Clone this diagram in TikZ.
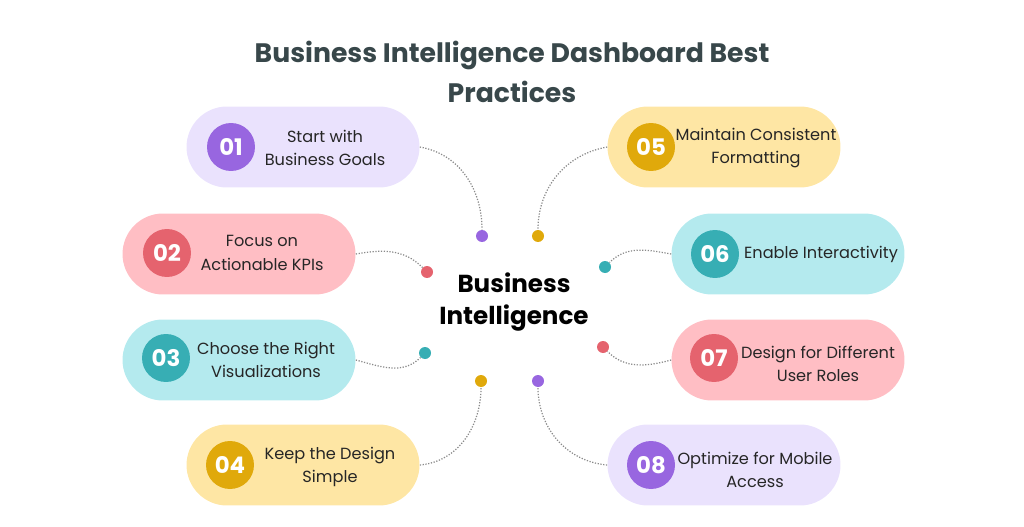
\documentclass[tikz,border=0pt]{standalone}
\usepackage{fontspec}
\setmainfont{Poppins}
\usetikzlibrary{positioning}

% Cores dos cartões
\definecolor{roxoclaro}{HTML}{EAE2FD}
\definecolor{roxo}{HTML}{9866E0}
\definecolor{rosaclaro}{HTML}{FFBEC4}
\definecolor{rosa}{HTML}{E5636E}
\definecolor{cianoclaro}{HTML}{B4EAEE}
\definecolor{ciano}{HTML}{37AEB4}
\definecolor{amareloclaro}{HTML}{FEE6A4}
\definecolor{amarelo}{HTML}{E0A90B}
\definecolor{corTitulo}{HTML}{38474A}
\definecolor{pontilhado}{HTML}{8A8A8A}

\tikzset{
  pilula/.style={fill=#1, rounded corners=0.81cm, minimum width=4.66cm, minimum height=1.62cm},
  numero/.style={circle, fill=#1, minimum size=0.96cm, inner sep=0pt, text=white, font=\fontsize{13}{13}\selectfont\bfseries},
  rotulo/.style={align=center, text=black!85, inner sep=1pt, font=\fontsize{9.2}{13.4}\selectfont},
  ponto/.style={circle, fill=#1, minimum size=0.24cm, inner sep=0pt},
  ligacao/.style={draw=pontilhado, line width=0.7pt, dash pattern=on 0.7pt off 0.9pt},
}

\begin{document}
\begin{tikzpicture}[x=0.02cm, y=-0.02cm]
			\useasboundingbox (0,0) rectangle (1024,527);
			
			% Título
			\node[align=center, text=corTitulo, font=\fontsize{15.2}{22.7}\selectfont\bfseries] (titulo) at (512,72) {Business Intelligence Dashboard Best\\Practices};
			
			% Texto central
			\node[align=center, font=\fontsize{14}{18.2}\selectfont\bfseries] (centro) at (514,302) {Business\\Intelligence};
			
			% Cartões da esquerda
			\node[pilula=roxoclaro] (p1) at (303,147) {};
			\node[numero=roxo] (n1) at (231,147) {01};
			\node[rotulo] (t1) at (325,148) {Start with\\Business Goals};
			
			\node[pilula=rosaclaro] (p2) at (239,254) {};
			\node[numero=rosa] (n2) at (167,253) {02};
			\node[rotulo] (t2) at (262,253) {Focus on\\Actionable KPIs};
			
			\node[pilula=cianoclaro] (p3) at (239,360) {};
			\node[numero=ciano] (n3) at (166,358) {03};
			\node[rotulo] (t3) at (266,360) {Choose the Right\\Visualizations};
			
			\node[pilula=amareloclaro] (p4) at (303,465) {};
			\node[numero=amarelo] (n4) at (230,465) {04};
			\node[rotulo] (t4) at (330,467) {Keep the Design\\Simple};
			
			% Cartões da direita
			\node[pilula=amareloclaro] (p5) at (724,147) {};
			\node[numero=amarelo] (n5) at (651,147) {05};
			\node[rotulo] (t5) at (756,148) {Maintain Consistent\\Formatting};
			
			\node[pilula=cianoclaro] (p6) at (788,254) {};
			\node[numero=ciano] (n6) at (715,254) {06};
			\node[rotulo] (t6) at (821,254) {Enable Interactivity};
			
			\node[pilula=rosaclaro] (p7) at (788,360) {};
			\node[numero=rosa] (n7) at (714,358) {07};
			\node[rotulo] (t7) at (818,364) {Design for Different\\User Roles};
			
			\node[pilula=roxoclaro] (p8) at (724,465) {};
			\node[numero=roxo] (n8) at (651,465) {08};
			\node[rotulo] (t8) at (755,470) {Optimize for Mobile\\Access};
			
			% Pontos em volta do centro
			\node[ponto=roxo] (d1) at (482,236) {};
			\node[ponto=rosa] (d2) at (427,272) {};
			\node[ponto=ciano] (d3) at (425,353) {};
			\node[ponto=amarelo] (d4) at (481,381) {};
			\node[ponto=amarelo] (d5) at (538,236) {};
			\node[ponto=ciano] (d6) at (605,267) {};
			\node[ponto=rosa] (d7) at (603,347) {};
			\node[ponto=roxo] (d8) at (538,381) {};
			
			% Ligações pontilhadas
			\draw[ligacao] (p1.east) to[out=-10, in=90] (d1.north);
			\draw[ligacao] (p2.east) to[out=10, in=135] (d2.north west);
			\draw[ligacao] (p3.east) to[out=-15, in=-135] (d3.south west);
			\draw[ligacao] (p4.east) to[out=5, in=-90] (d4.south);
			\draw[ligacao] (p5.west) to[out=190, in=90] (d5.north);
			\draw[ligacao] (p6.west) to[out=170, in=45] (d6.north east);
			\draw[ligacao] (p7.west) to[out=195, in=-45] (d7.south east);
			\draw[ligacao] (p8.west) to[out=175, in=-90] (d8.south);
		\end{tikzpicture}
\end{document}
